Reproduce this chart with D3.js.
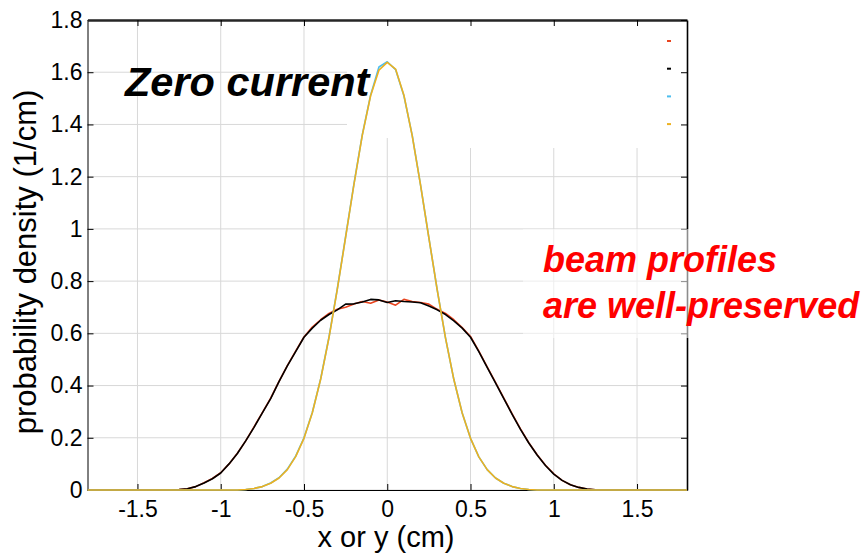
<!DOCTYPE html>
<html>
<head>
<meta charset="utf-8">
<script src="https://cdn.jsdelivr.net/npm/d3@7"></script>
<style>
  body { margin: 0; background: #fff; }
  svg { display: block; font-family: "Liberation Sans", Arial, sans-serif; }
</style>
</head>
<body>
<div id="chart"></div>
<script>
// sampling grid, cm (step 0.05 from -1.8 to 1.8)
const xGrid = d3.range(-36, 37).map(i => i * 0.05);

// wide profiles, values from x = -1.30 to 1.30 (zero outside)
const redWide = [0.000, 0.002, 0.005, 0.013, 0.028, 0.044, 0.066, 0.100, 0.141, 0.188,
  0.242, 0.296, 0.352, 0.416, 0.476, 0.532, 0.586, 0.624, 0.652, 0.676,
  0.692, 0.700, 0.712, 0.722, 0.715, 0.728, 0.720, 0.708, 0.730, 0.722,
  0.718, 0.712, 0.692, 0.676, 0.652, 0.622, 0.588, 0.532, 0.472, 0.412,
  0.352, 0.292, 0.234, 0.181, 0.135, 0.095, 0.062, 0.037, 0.020, 0.010,
  0.004, 0.001, 0.000];
const blackWide = [0.000, 0.002, 0.005, 0.013, 0.027, 0.043, 0.065, 0.100, 0.140, 0.188,
  0.240, 0.295, 0.350, 0.415, 0.475, 0.530, 0.585, 0.620, 0.650, 0.672,
  0.690, 0.712, 0.713, 0.720, 0.730, 0.728, 0.718, 0.725, 0.722, 0.720,
  0.717, 0.705, 0.690, 0.672, 0.648, 0.620, 0.585, 0.530, 0.470, 0.410,
  0.350, 0.290, 0.232, 0.180, 0.134, 0.094, 0.061, 0.037, 0.020, 0.010,
  0.004, 0.001, 0.000];

// narrow profiles, values from x = -0.90 to 0.90 (zero outside)
const blueNarrow = [0.000, 0.002, 0.006, 0.013, 0.027, 0.047, 0.080, 0.130, 0.200, 0.297,
  0.425, 0.585, 0.770, 0.970, 1.172, 1.360, 1.512, 1.620, 1.640, 1.610,
  1.510, 1.358, 1.168, 0.966, 0.766, 0.582, 0.423, 0.295, 0.198, 0.127,
  0.078, 0.046, 0.026, 0.013, 0.006, 0.002, 0.000];
const orangeNarrow = [0.000, 0.002, 0.006, 0.013, 0.026, 0.046, 0.078, 0.128, 0.198, 0.296,
  0.424, 0.583, 0.768, 0.968, 1.170, 1.358, 1.510, 1.608, 1.638, 1.612,
  1.512, 1.356, 1.168, 0.966, 0.766, 0.582, 0.423, 0.295, 0.198, 0.127,
  0.078, 0.046, 0.026, 0.013, 0.006, 0.002, 0.000];

const xTicks = [-1.5, -1, -0.5, 0, 0.5, 1, 1.5];
const yTicks = [0, 0.2, 0.4, 0.6, 0.8, 1, 1.2, 1.4, 1.6, 1.8];

const seriesColors = ["#e8441f", "#000000", "#4dbeee", "#edb120"];

function padSeries(vals, xStart) {
  const start = Math.round((xStart + 1.8) / 0.05);
  return xGrid.map((x, i) => {
    const k = i - start;
    return { x, y: (k >= 0 && k < vals.length) ? vals[k] : 0 };
  });
}

const series = [
  padSeries(redWide, -1.3),
  padSeries(blackWide, -1.3),
  padSeries(blueNarrow, -0.9),
  padSeries(orangeNarrow, -0.9)
];

const width = 863, height = 553;
const margin = { left: 87.5, right: 176, top: 20, bottom: 63 };

const svg = d3.select("#chart").append("svg")
  .attr("width", width)
  .attr("height", height);

const x = d3.scaleLinear().domain([-1.8, 1.8]).range([margin.left, width - margin.right]);
const y = d3.scaleLinear().domain([0, 1.8]).range([height - margin.bottom, margin.top]);

const fmt = d => String(+d.toFixed(1));

// grid
const grid = svg.append("g").attr("stroke", "#d8d8d8").attr("stroke-width", 1);
grid.selectAll(".gx").data(xTicks).join("line")
  .attr("x1", d => x(d)).attr("x2", d => x(d))
  .attr("y1", y(1.8)).attr("y2", y(0));
grid.selectAll(".gy").data(yTicks).join("line")
  .attr("x1", x(-1.8)).attr("x2", x(1.8))
  .attr("y1", d => y(d)).attr("y2", d => y(d));

// legend box (entries only show line samples)
svg.append("rect")
  .attr("x", 347).attr("y", y(1.8)).attr("width", x(1.8) - 347).attr("height", 118)
  .attr("fill", "#fff");
svg.append("rect")
  .attr("x", 430).attr("y", y(1.8)).attr("width", x(1.8) - 430).attr("height", 128)
  .attr("fill", "#fff");
svg.selectAll(".leg").data(seriesColors).join("line")
  .attr("x1", 667).attr("x2", 671)
  .attr("y1", (d, i) => 41 + i * 27.7).attr("y2", (d, i) => 41 + i * 27.7)
  .attr("stroke", d => d).attr("stroke-width", 2);

// axes
const styleAxis = g => {
  g.selectAll("path.domain").attr("stroke", "#000");
  g.selectAll(".tick line").attr("stroke", "#000");
  g.selectAll("text").attr("fill", "#000").attr("font-size", 23)
    .attr("font-family", "'Liberation Sans', Arial, sans-serif");
};

svg.append("g")
  .attr("transform", `translate(0,${y(0)})`)
  .call(d3.axisBottom(x).tickValues(xTicks).tickFormat(fmt).tickSize(-6).tickSizeOuter(0).tickPadding(11))
  .call(styleAxis);
svg.append("g")
  .attr("transform", `translate(${x(-1.8)},0)`)
  .call(d3.axisLeft(y).tickValues(yTicks).tickFormat(fmt).tickSize(-6).tickSizeOuter(0).tickPadding(5))
  .call(styleAxis);
svg.append("g")
  .attr("transform", `translate(0,${y(1.8)})`)
  .call(d3.axisTop(x).tickValues(xTicks).tickFormat("").tickSize(-6).tickSizeOuter(0))
  .call(styleAxis)
  .select("path.domain").attr("stroke", "#262626").attr("stroke-width", 2.5);
svg.append("g")
  .attr("transform", `translate(${x(1.8)},0)`)
  .call(d3.axisRight(y).tickValues(yTicks).tickFormat("").tickSize(-6).tickSizeOuter(0))
  .call(styleAxis)
  .select("path.domain").attr("stroke-width", 1.6);

// profiles
const line = d3.line().x(d => x(d.x)).y(d => y(d.y));
svg.selectAll(".profile").data(series).join("path")
  .attr("class", "profile")
  .attr("d", line)
  .attr("fill", "none")
  .attr("stroke", (d, i) => seriesColors[i])
  .attr("stroke-width", 1.6)
  .attr("stroke-linejoin", "round");

// axis titles
svg.append("text")
  .attr("x", 386).attr("y", 547)
  .attr("text-anchor", "middle")
  .attr("font-size", 29)
  .text("x or y (cm)");
svg.append("text")
  .attr("transform", "translate(36,262) rotate(-90)")
  .attr("text-anchor", "middle")
  .attr("font-size", 31)
  .text("probability density (1/cm)");

// annotations
svg.append("text")
  .attr("x", 125).attr("y", 96)
  .attr("font-size", 41.5).attr("font-weight", "bold").attr("font-style", "italic")
  .text("Zero current");

svg.append("rect")
  .attr("x", 523).attr("y", 229).attr("width", width - 523).attr("height", 109)
  .attr("fill", "#fff").attr("fill-opacity", 0.55);
const note = svg.append("text")
  .attr("font-size", 36).attr("font-weight", "bold").attr("font-style", "italic")
  .attr("fill", "#ff0000");
note.append("tspan").attr("x", 543).attr("y", 272).text("beam profiles");
note.append("tspan").attr("x", 543).attr("y", 318).text("are well-preserved");
</script>
</body>
</html>
